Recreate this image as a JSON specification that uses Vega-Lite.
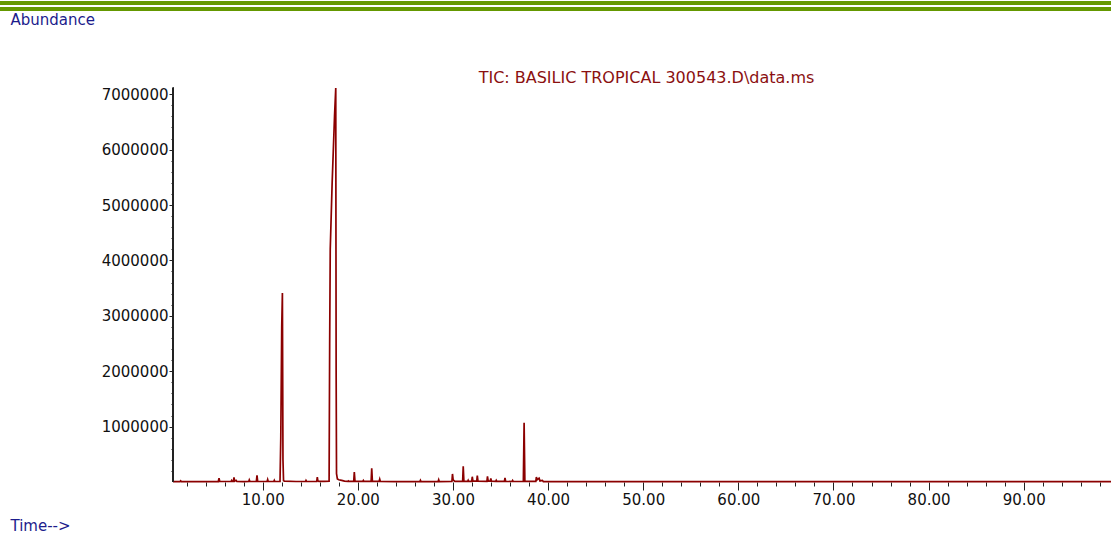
{
  "$schema": "https://vega.github.io/schema/vega-lite/v6.json",
  "width": 1111,
  "height": 533,
  "padding": 0,
  "autosize": {"type": "none"},
  "background": "white",
  "config": {
    "view": {"stroke": null},
    "font": "DejaVu Sans",
    "axis": {"labelOverlap": false, "labelBound": false, "labelFlush": false, "grid": false}
  },
  "title": {
    "text": "TIC: BASILIC TROPICAL 300543.D\\data.ms",
    "anchor": "middle",
    "frame": "group",
    "offset": -99,
    "dx": 91,
    "color": "#8b1010",
    "font": "DejaVu Sans",
    "fontSize": 16,
    "fontWeight": "normal",
    "baseline": "alphabetic"
  },
  "data": {
    "values": [
      {"time": 0.57, "abundance": 5000},
      {"time": 1.3, "abundance": 6000}, {"time": 1.38, "abundance": 22000}, {"time": 1.45, "abundance": 6000},
      {"time": 3.0, "abundance": 7000},
      {"time": 5.33, "abundance": 8000}, {"time": 5.41, "abundance": 67000}, {"time": 5.48, "abundance": 9000},
      {"time": 6.68, "abundance": 9000}, {"time": 6.74, "abundance": 28000}, {"time": 6.8, "abundance": 10000},
      {"time": 6.92, "abundance": 12000}, {"time": 6.98, "abundance": 85000}, {"time": 7.05, "abundance": 14000},
      {"time": 7.2, "abundance": 30000}, {"time": 7.28, "abundance": 10000},
      {"time": 8.0, "abundance": 8000},
      {"time": 8.53, "abundance": 9000}, {"time": 8.59, "abundance": 38000}, {"time": 8.66, "abundance": 9000},
      {"time": 9.33, "abundance": 9000}, {"time": 9.4, "abundance": 120000}, {"time": 9.47, "abundance": 10000},
      {"time": 10.46, "abundance": 9000}, {"time": 10.52, "abundance": 45000}, {"time": 10.58, "abundance": 9000},
      {"time": 11.16, "abundance": 9000}, {"time": 11.22, "abundance": 32000}, {"time": 11.28, "abundance": 9000},
      {"time": 11.82, "abundance": 10000}, {"time": 11.9, "abundance": 800000}, {"time": 12.0, "abundance": 2800000},
      {"time": 12.07, "abundance": 3410000}, {"time": 12.13, "abundance": 400000}, {"time": 12.19, "abundance": 25000},
      {"time": 12.3, "abundance": 15000},
      {"time": 13.5, "abundance": 9000},
      {"time": 14.5, "abundance": 9000}, {"time": 14.55, "abundance": 28000}, {"time": 14.61, "abundance": 9000},
      {"time": 15.68, "abundance": 10000}, {"time": 15.74, "abundance": 88000}, {"time": 15.8, "abundance": 20000},
      {"time": 15.9, "abundance": 10000},
      {"time": 16.5, "abundance": 12000},
      {"time": 16.98, "abundance": 15000}, {"time": 17.04, "abundance": 2500000}, {"time": 17.1, "abundance": 4200000},
      {"time": 17.3, "abundance": 5400000}, {"time": 17.55, "abundance": 6600000}, {"time": 17.68, "abundance": 7112000},
      {"time": 17.72, "abundance": 2000000}, {"time": 17.76, "abundance": 150000}, {"time": 17.85, "abundance": 55000},
      {"time": 18.0, "abundance": 40000}, {"time": 18.3, "abundance": 30000}, {"time": 18.6, "abundance": 15000},
      {"time": 18.95, "abundance": 12000}, {"time": 19.0, "abundance": 20000}, {"time": 19.05, "abundance": 12000},
      {"time": 19.57, "abundance": 12000}, {"time": 19.63, "abundance": 180000}, {"time": 19.7, "abundance": 15000},
      {"time": 20.52, "abundance": 11000}, {"time": 20.58, "abundance": 28000}, {"time": 20.64, "abundance": 11000},
      {"time": 21.4, "abundance": 12000}, {"time": 21.46, "abundance": 247000}, {"time": 21.53, "abundance": 15000},
      {"time": 22.24, "abundance": 12000}, {"time": 22.3, "abundance": 50000}, {"time": 22.36, "abundance": 12000},
      {"time": 24.0, "abundance": 8000},
      {"time": 26.52, "abundance": 8000}, {"time": 26.58, "abundance": 30000}, {"time": 26.64, "abundance": 8000},
      {"time": 28.44, "abundance": 8000}, {"time": 28.5, "abundance": 40000}, {"time": 28.56, "abundance": 8000},
      {"time": 29.89, "abundance": 10000}, {"time": 29.95, "abundance": 145000}, {"time": 30.02, "abundance": 40000},
      {"time": 30.2, "abundance": 12000},
      {"time": 31.02, "abundance": 12000}, {"time": 31.08, "abundance": 283000}, {"time": 31.15, "abundance": 15000},
      {"time": 31.55, "abundance": 12000}, {"time": 31.6, "abundance": 30000}, {"time": 31.65, "abundance": 12000},
      {"time": 31.97, "abundance": 12000}, {"time": 32.03, "abundance": 95000}, {"time": 32.1, "abundance": 15000},
      {"time": 32.5, "abundance": 15000}, {"time": 32.56, "abundance": 115000}, {"time": 32.63, "abundance": 15000},
      {"time": 33.57, "abundance": 12000}, {"time": 33.63, "abundance": 100000}, {"time": 33.7, "abundance": 20000},
      {"time": 33.92, "abundance": 15000}, {"time": 33.98, "abundance": 65000}, {"time": 34.05, "abundance": 15000},
      {"time": 34.49, "abundance": 10000}, {"time": 34.55, "abundance": 30000}, {"time": 34.61, "abundance": 10000},
      {"time": 35.41, "abundance": 10000}, {"time": 35.47, "abundance": 75000}, {"time": 35.54, "abundance": 10000},
      {"time": 36.21, "abundance": 9000}, {"time": 36.27, "abundance": 28000}, {"time": 36.33, "abundance": 9000},
      {"time": 37.4, "abundance": 10000}, {"time": 37.48, "abundance": 1070000}, {"time": 37.56, "abundance": 12000},
      {"time": 38.71, "abundance": 12000}, {"time": 38.77, "abundance": 90000}, {"time": 38.85, "abundance": 40000},
      {"time": 39.05, "abundance": 70000}, {"time": 39.15, "abundance": 20000}, {"time": 39.4, "abundance": 30000},
      {"time": 39.5, "abundance": 8000},
      {"time": 42.0, "abundance": 6000}, {"time": 50.0, "abundance": 5000}, {"time": 60.0, "abundance": 5000},
      {"time": 70.0, "abundance": 5000}, {"time": 80.0, "abundance": 5000}, {"time": 90.0, "abundance": 5000},
      {"time": 99.18, "abundance": 5000}
    ]
  },
  "layer": [
    {
      "mark": {"type": "line", "color": "#8b0000", "strokeWidth": 1.7, "clip": true},
      "encoding": {
        "x": {
          "field": "time",
          "type": "quantitative",
          "scale": {"domain": [-17.617, 99.177], "nice": false, "zero": false},
          "axis": {
            "orient": "bottom",
            "offset": -51,
            "domain": false,
            "grid": false,
            "tickCount": 1000,
            "values": [2, 4, 6, 8, 10, 12, 14, 16, 18, 20, 22, 24, 26, 28, 30, 32, 34, 36, 38, 40, 42, 44, 46, 48, 50, 52, 54, 56, 58, 60, 62, 64, 66, 68, 70, 72, 74, 76, 78, 80, 82, 84, 86, 88, 90, 92, 94, 96, 98],
            "labelExpr": "datum.value % 10 === 0 ? format(datum.value, '.2f') : ''",
            "labelFont": "DejaVu Sans",
            "labelFontSize": 15,
            "labelColor": "#111111",
            "labelPadding": 2,
            "labelOverlap": false,
            "labelBound": false,
            "labelFlush": false,
            "tickColor": "#222222",
            "tickWidth": 1,
            "tickSize": {"condition": {"test": "datum.value % 10 === 0", "value": 8}, "value": 4},
            "title": "Time-->",
            "titleX": 10,
            "titleY": 48,
            "titleAlign": "left",
            "titleBaseline": "alphabetic",
            "titleFont": "DejaVu Sans",
            "titleFontSize": 15,
            "titleFontWeight": "normal",
            "titleColor": "#1c1c8c"
          }
        },
        "y": {
          "field": "abundance",
          "type": "quantitative",
          "scale": {"domain": [-920600, 8700400], "nice": false, "zero": false},
          "axis": {
            "orient": "left",
            "offset": -173,
            "domain": false,
            "grid": false,
            "tickCount": 1000,
            "values": [200000, 400000, 600000, 800000, 1000000, 1200000, 1400000, 1600000, 1800000, 2000000, 2200000, 2400000, 2600000, 2800000, 3000000, 3200000, 3400000, 3600000, 3800000, 4000000, 4200000, 4400000, 4600000, 4800000, 5000000, 5200000, 5400000, 5600000, 5800000, 6000000, 6200000, 6400000, 6600000, 6800000, 7000000],
            "labelExpr": "datum.value % 1000000 === 0 ? format(datum.value, 'd') : ''",
            "labelFont": "DejaVu Sans",
            "labelFontSize": 15,
            "labelColor": "#111111",
            "labelPadding": 1,
            "labelOverlap": false,
            "labelBound": false,
            "labelFlush": false,
            "tickColor": "#222222",
            "tickWidth": 1,
            "tickSize": {"condition": {"test": "datum.value % 1000000 === 0", "value": 4}, "value": 2},
            "title": "Abundance",
            "titleAngle": 0,
            "titleX": -163,
            "titleY": 24,
            "titleAlign": "left",
            "titleBaseline": "alphabetic",
            "titleFont": "DejaVu Sans",
            "titleFontSize": 15,
            "titleFontWeight": "normal",
            "titleColor": "#1c1c8c"
          }
        }
      }
    },
    {
      "mark": {"type": "rule", "color": "#222222", "strokeWidth": 1},
      "encoding": {
        "x": {"datum": 0.57, "type": "quantitative"},
        "y": {"datum": 0, "type": "quantitative"},
        "y2": {"datum": 7112000}
      }
    },
    {
      "mark": {"type": "rule", "color": "#669900", "strokeWidth": 3, "clip": false},
      "encoding": {
        "y": {"datum": 8642600, "type": "quantitative"}
      }
    },
    {
      "mark": {"type": "rule", "color": "#669900", "strokeWidth": 3, "clip": false},
      "encoding": {
        "y": {"datum": 8541500, "type": "quantitative"}
      }
    }
  ]
}
